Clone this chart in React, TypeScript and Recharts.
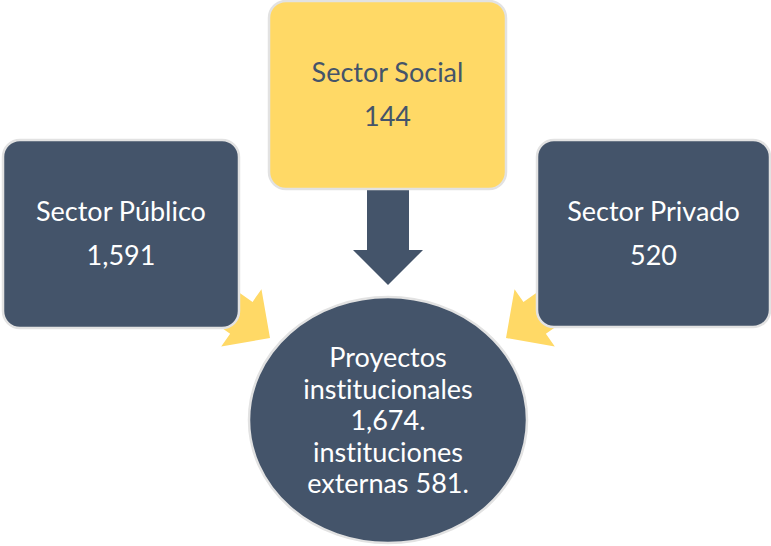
import React from 'react';
import { ScatterChart, Scatter, XAxis, YAxis } from 'recharts';

// ---- data ----
const sectorNames = ['Sector Público', 'Sector Social', 'Sector Privado'];
const sectorValues = ['1,591', '144', '520'];
const centerLines = ['Proyectos', 'institucionales', '1,674.', 'instituciones', 'externas 581.'];

// ---- layout (pixel units, chart scale is 1:1) ----
const boxCenters = [
  { x: 121, y: 234, w: 236, h: 188 },
  { x: 387.5, y: 95, w: 237, h: 188 },
  { x: 653.5, y: 233.5, w: 233, h: 187 },
];
const circleCenter = { x: 388, y: 420, rx: 139, ry: 123 };
const yellowArrows = [
  { x: 270, y: 338, dx: 0.819, dy: 0.575 },
  { x: 506, y: 338, dx: -0.819, dy: 0.575 },
];
const downArrow = { x: 388, y: 285, top: 189 };

const NAVY = '#44546A';
const YELLOW = '#FFD966';
const BORDER = '#E2E2E2';
const FONT = 'Lato, "Noto Sans", sans-serif';
const FS = 27;
const textStyle = { fontVariantLigatures: 'none' as const };

const boxData = boxCenters.map((b, i) => ({
  x: b.x,
  y: b.y,
  w: b.w,
  h: b.h,
  name: sectorNames[i],
  value: sectorValues[i],
  fill: i === 1 ? YELLOW : NAVY,
  textColor: i === 1 ? NAVY : '#FFFFFF',
}));

const circleData = [{ ...circleCenter, lines: centerLines }];

const BoxShape = (props: any) => {
  const { cx, cy, payload } = props;
  const { w, h, fill, textColor, name, value } = payload;
  return (
    <g>
      <rect
        x={cx - w / 2}
        y={cy - h / 2}
        width={w}
        height={h}
        rx={17}
        ry={17}
        fill={fill}
        stroke={BORDER}
        strokeWidth={2.5}
      />
      <text x={cx} y={cy - 13} textAnchor="middle" fill={textColor} fontSize={FS} fontFamily={FONT} style={textStyle}>
        {name}
      </text>
      <text x={cx} y={cy + 31} textAnchor="middle" fill={textColor} fontSize={FS} fontFamily={FONT} style={textStyle}>
        {value}
      </text>
    </g>
  );
};

const CircleShape = (props: any) => {
  const { cx, cy, payload } = props;
  const { rx, ry, lines } = payload;
  const startY = cy - 53;
  return (
    <g>
      <ellipse cx={cx} cy={cy} rx={rx} ry={ry} fill={NAVY} stroke={BORDER} strokeWidth={2.5} />
      {lines.map((l: string, i: number) => (
        <text
          key={i}
          x={cx}
          y={startY + i * 31.5}
          textAnchor="middle"
          fill="#FFFFFF"
          fontSize={FS}
          fontFamily={FONT}
          style={textStyle}
        >
          {l}
        </text>
      ))}
    </g>
  );
};

const YellowArrowShape = (props: any) => {
  const { cx, cy, payload } = props;
  const { dx, dy } = payload;
  const px = -dy;
  const py = dx;
  const headLen = 35;
  const headHalf = 35;
  const shaftHalf = 19.5;
  const tailLen = 48;
  const bx = cx - dx * headLen;
  const by = cy - dy * headLen;
  const tx = bx - dx * tailLen;
  const ty = by - dy * tailLen;
  const pts = [
    [cx, cy],
    [bx + px * headHalf, by + py * headHalf],
    [bx + px * shaftHalf, by + py * shaftHalf],
    [tx + px * shaftHalf, ty + py * shaftHalf],
    [tx - px * shaftHalf, ty - py * shaftHalf],
    [bx - px * shaftHalf, by - py * shaftHalf],
    [bx - px * headHalf, by - py * headHalf],
  ];
  return <polygon points={pts.map((p) => p.join(',')).join(' ')} fill={YELLOW} />;
};

const DownArrowShape = (props: any) => {
  const { cx, cy, payload } = props;
  const top = payload.top;
  const headLen = 35;
  const headHalf = 35;
  const shaftHalf = 21;
  const by = cy - headLen;
  const pts = [
    [cx, cy],
    [cx - headHalf, by],
    [cx - shaftHalf, by],
    [cx - shaftHalf, top],
    [cx + shaftHalf, top],
    [cx + shaftHalf, by],
    [cx + headHalf, by],
  ];
  return <polygon points={pts.map((p) => p.join(',')).join(' ')} fill={NAVY} />;
};

export default function App() {
  return (
    <div style={{ position: 'fixed', left: 0, top: 0, width: 771, height: 546, background: '#fff' }}>
      <ScatterChart width={771} height={546} margin={{ top: 0, right: 0, bottom: 0, left: 0 }}>
        <XAxis type="number" dataKey="x" domain={[0, 771]} hide allowDataOverflow />
        <YAxis type="number" dataKey="y" domain={[0, 546]} reversed hide allowDataOverflow />
        <Scatter data={yellowArrows} shape={YellowArrowShape} isAnimationActive={false} />
        <Scatter data={[downArrow]} shape={DownArrowShape} isAnimationActive={false} />
        <Scatter data={boxData} shape={BoxShape} isAnimationActive={false} />
        <Scatter data={circleData} shape={CircleShape} isAnimationActive={false} />
      </ScatterChart>
    </div>
  );
}
